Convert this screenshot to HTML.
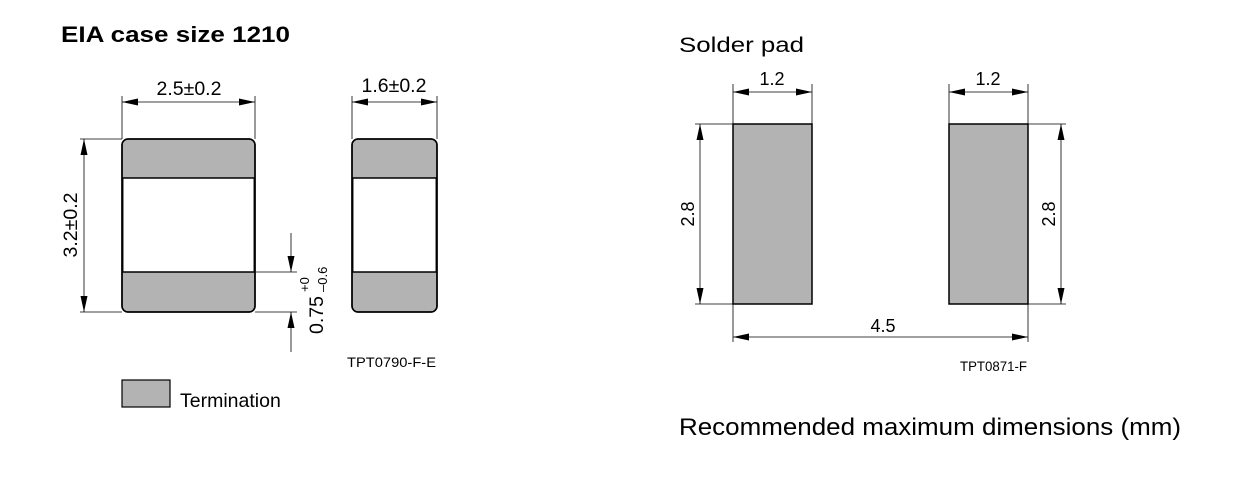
<!DOCTYPE html>
<html><head><meta charset="utf-8"><style>
html,body{margin:0;padding:0;background:#fff;}
svg{display:block;font-family:"Liberation Sans",Arial,sans-serif;}
</style></head><body>
<svg width="1258" height="483" viewBox="0 0 1258 483" xmlns="http://www.w3.org/2000/svg">
<defs>
<marker id="a" viewBox="0 0 16 7" refX="16" refY="3.5" markerWidth="16" markerHeight="7" orient="auto-start-reverse" markerUnits="userSpaceOnUse"><path d="M0,0L16,3.5L0,7z" fill="#000"/></marker>
</defs>
<text x="61" y="42" font-size="22" font-weight="bold" textLength="229" lengthAdjust="spacingAndGlyphs">EIA case size 1210</text>
<rect x="122" y="139" width="133" height="173" rx="6" fill="#b3b3b3" stroke="#000" stroke-width="1.5"/>
<rect x="122.7" y="178" width="131.6" height="94" fill="#fff" stroke="#000" stroke-width="1.5"/>
<rect x="122" y="139" width="133" height="173" rx="6" fill="none" stroke="#000" stroke-width="1.5"/>
<rect x="352" y="139" width="85" height="173" rx="6" fill="#b3b3b3" stroke="#000" stroke-width="1.5"/>
<rect x="352.7" y="178" width="83.6" height="94" fill="#fff" stroke="#000" stroke-width="1.5"/>
<rect x="352" y="139" width="85" height="173" rx="6" fill="none" stroke="#000" stroke-width="1.5"/>
<g stroke="#000" stroke-width="0.8" fill="none">
<line x1="122" y1="96" x2="122" y2="139"/><line x1="255" y1="96" x2="255" y2="139"/>
<line x1="122" y1="102" x2="255" y2="102" marker-start="url(#a)" marker-end="url(#a)"/>
<line x1="352" y1="96" x2="352" y2="139"/><line x1="437" y1="96" x2="437" y2="139"/>
<line x1="352" y1="102" x2="437" y2="102" marker-start="url(#a)" marker-end="url(#a)"/>
<line x1="80" y1="139" x2="122" y2="139"/><line x1="80" y1="312" x2="122" y2="312"/>
<line x1="84" y1="139" x2="84" y2="312" marker-start="url(#a)" marker-end="url(#a)"/>
<line x1="255" y1="272" x2="297" y2="272"/><line x1="255" y1="312" x2="297" y2="312"/>
<line x1="291" y1="233" x2="291" y2="272" marker-end="url(#a)"/>
<line x1="291" y1="352" x2="291" y2="312" marker-end="url(#a)"/>
</g>
<text x="189" y="95" font-size="19.5" text-anchor="middle">2.5±0.2</text>
<text x="394" y="92" font-size="19.5" text-anchor="middle">1.6±0.2</text>
<text transform="translate(77,225) rotate(-90)" font-size="19.5" text-anchor="middle">3.2±0.2</text>
<text transform="translate(323,334) rotate(-90)" font-size="19.5">0.75</text>
<text transform="translate(309,292) rotate(-90)" font-size="13">+0</text>
<text transform="translate(327,292) rotate(-90)" font-size="13">–0.6</text>
<text x="347" y="367" font-size="13.5" textLength="89" lengthAdjust="spacingAndGlyphs">TPT0790-F-E</text>
<rect x="122" y="380" width="48" height="27" fill="#b3b3b3" stroke="#000" stroke-width="1.2"/>
<text x="180" y="407" font-size="19.5">Termination</text>
<text x="679" y="52" font-size="21.5" textLength="125" lengthAdjust="spacingAndGlyphs">Solder pad</text>
<rect x="733" y="124" width="79" height="180" fill="#b3b3b3" stroke="#000" stroke-width="1.5"/>
<rect x="949" y="124" width="79" height="180" fill="#b3b3b3" stroke="#000" stroke-width="1.5"/>
<g stroke="#000" stroke-width="0.8" fill="none">
<line x1="733" y1="84" x2="733" y2="124"/><line x1="812" y1="84" x2="812" y2="124"/>
<line x1="733" y1="92" x2="812" y2="92" marker-start="url(#a)" marker-end="url(#a)"/>
<line x1="949" y1="84" x2="949" y2="124"/><line x1="1028" y1="84" x2="1028" y2="124"/>
<line x1="949" y1="92" x2="1028" y2="92" marker-start="url(#a)" marker-end="url(#a)"/>
<line x1="695" y1="124" x2="733" y2="124"/><line x1="695" y1="304" x2="733" y2="304"/>
<line x1="700" y1="124" x2="700" y2="304" marker-start="url(#a)" marker-end="url(#a)"/>
<line x1="1028" y1="124" x2="1066" y2="124"/><line x1="1028" y1="304" x2="1066" y2="304"/>
<line x1="1061" y1="124" x2="1061" y2="304" marker-start="url(#a)" marker-end="url(#a)"/>
<line x1="733" y1="304" x2="733" y2="342"/><line x1="1028" y1="304" x2="1028" y2="342"/>
<line x1="733" y1="337" x2="1028" y2="337" marker-start="url(#a)" marker-end="url(#a)"/>
</g>
<text x="772" y="85" font-size="18" text-anchor="middle">1.2</text>
<text x="988" y="85" font-size="18" text-anchor="middle">1.2</text>
<text transform="translate(694,214) rotate(-90)" font-size="18" text-anchor="middle">2.8</text>
<text transform="translate(1055,214) rotate(-90)" font-size="18" text-anchor="middle">2.8</text>
<text x="883" y="332" font-size="18" text-anchor="middle">4.5</text>
<text x="960" y="371" font-size="13.5" textLength="67" lengthAdjust="spacingAndGlyphs">TPT0871-F</text>
<text x="679" y="435" font-size="24" textLength="502" lengthAdjust="spacingAndGlyphs">Recommended maximum dimensions (mm)</text>
</svg>
</body></html>
